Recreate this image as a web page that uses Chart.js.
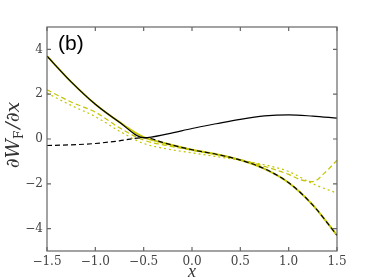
<!DOCTYPE html>
<html>
<head>
<meta charset="utf-8">
<script src="https://cdn.jsdelivr.net/npm/chart.js@4"></script>
<style>
  html, body { margin: 0; padding: 0; background: #fff; }
</style>
</head>
<body>
<canvas id="myChart" width="374" height="280"></canvas>
<script>
// x grid shared by most curves
const xs = [-1.5, -1.25, -1.0, -0.75, -0.5, -0.25, 0, 0.25, 0.5, 0.75, 1.0, 1.25, 1.5];

// descending branch (yellow solid under, black on the left part)
const descY = [3.7, 2.55, 1.55, 0.75, 0.08, -0.22, -0.48, -0.68, -0.94, -1.33, -1.95, -2.95, -4.3];

// black solid: left half of descending branch, then rising branch
const solidX = [-1.5, -1.25, -1.0, -0.75, -0.5, -0.25, 0, 0.25, 0.5, 0.75, 1.0, 1.25, 1.5];
const solidY = [3.7, 2.55, 1.55, 0.75, 0.06, 0.23, 0.47, 0.68, 0.88, 1.03, 1.08, 1.02, 0.93];

// black dashed: flat left part, then descending branch
const dashX = [-1.5, -1.25, -1.0, -0.75, -0.5, -0.25, 0, 0.25, 0.5, 0.75, 1.0, 1.25, 1.5];
const dashY = [-0.29, -0.26, -0.2, -0.08, 0.06, -0.22, -0.48, -0.68, -0.94, -1.33, -1.95, -2.95, -4.3];

// yellow dashed (turns up at the right)
const yelAX = [-1.5, -1.25, -1.0, -0.75, -0.5, -0.25, 0, 0.25, 0.5, 0.75, 1.0, 1.125, 1.25, 1.375, 1.5];
const yelAY = [2.2, 1.65, 1.2, 0.5, -0.05, -0.3, -0.5, -0.69, -0.92, -1.22, -1.58, -1.82, -1.9, -1.5, -0.95];

// yellow dotted
const yelBX = [-1.5, -1.25, -1.0, -0.75, -0.5, -0.25, 0, 0.25, 0.5, 0.75, 1.0, 1.25, 1.5];
const yelBY = [2.05, 1.5, 1.0, 0.35, -0.2, -0.45, -0.62, -0.78, -0.95, -1.15, -1.45, -2.0, -2.42];

const xTicks = [-1.5, -1.0, -0.5, 0.0, 0.5, 1.0, 1.5];
const yTicks = [-4, -2, 0, 2, 4];

const yellow = '#c4c400';
const pts = (a, b) => a.map((v, i) => ({x: v, y: b[i]}));
const fmt = (v, d) => (v < 0 ? '\u2212' : '') + Math.abs(v).toFixed(d);

const frame = {
    id: 'frame',
    afterDraw(chart) {
        const c = chart.ctx, a = chart.chartArea;
        const sx = chart.scales.x, sy = chart.scales.y;
        c.save();
        c.strokeStyle = '#666';
        c.lineWidth = 1.2;
        c.strokeRect(a.left, a.top, a.right - a.left, a.bottom - a.top);
        c.beginPath();
        xTicks.forEach(v => {
            const p = sx.getPixelForValue(v);
            c.moveTo(p, a.bottom); c.lineTo(p, a.bottom - 4);
            c.moveTo(p, a.top); c.lineTo(p, a.top + 4);
        });
        yTicks.forEach(v => {
            const p = sy.getPixelForValue(v);
            c.moveTo(a.left, p); c.lineTo(a.left + 4, p);
            c.moveTo(a.right, p); c.lineTo(a.right - 4, p);
        });
        c.stroke();

        // panel label
        c.fillStyle = '#000';
        c.font = '21px "Liberation Sans", Arial, sans-serif';
        c.textBaseline = 'alphabetic';
        c.fillText('(b)', a.left + 11, a.top + 23);

        // x label
        c.fillStyle = '#333';
        c.font = 'italic 18px "Liberation Serif", serif';
        c.textAlign = 'center';
        c.fillText('x', (a.left + a.right) / 2, 277);

        // y label
        c.textAlign = 'left';
        c.translate(19, 135);
        c.rotate(-Math.PI / 2);
        const big = 'italic 19px "DejaVu Serif", serif';
        const small = '12px "DejaVu Serif", serif';
        c.font = big; const w1 = c.measureText('\u2202W').width;
        c.font = small; const w2 = c.measureText('F').width;
        c.font = big; const w3 = c.measureText('/\u2202x').width;
        let x0 = -(w1 + w2 + w3 + 2) / 2;
        c.font = big; c.fillText('\u2202W', x0, 0);
        c.font = small; c.fillText('F', x0 + w1, 4);
        c.font = big; c.fillText('/\u2202x', x0 + w1 + w2 + 2, 0);
        c.restore();
    }
};

const ctx = document.getElementById('myChart');

new Chart(ctx, {
    type: 'line',
    data: {
        datasets: [
            {data: pts(solidX, solidY), borderColor: '#000', borderWidth: 1.2},
            {data: pts(dashX, dashY), borderColor: '#000', borderWidth: 1.2, borderDash: [5, 3]},
            {data: pts(xs, descY), borderColor: yellow, borderWidth: 2},
            {data: pts(yelAX, yelAY), borderColor: yellow, borderWidth: 1.2, borderDash: [5, 3]},
            {data: pts(yelBX, yelBY), borderColor: yellow, borderWidth: 1.2, borderDash: [2, 3]}
        ]
    },
    options: {
        responsive: false,
        animation: false,
        events: [],
        layout: {padding: {top: 27, right: 37, left: 0, bottom: 0}},
        elements: {
            point: {radius: 0},
            line: {cubicInterpolationMode: 'monotone', fill: false}
        },
        plugins: {legend: {display: false}, tooltip: {enabled: false}},
        scales: {
            x: {
                type: 'linear', min: -1.5, max: 1.5,
                border: {display: false},
                grid: {display: false, drawTicks: false},
                afterBuildTicks: s => { s.ticks = xTicks.map(v => ({value: v})); },
                afterFit: s => { s.height = 29; },
                ticks: {
                    padding: 4, maxRotation: 0, color: '#444',
                    font: {family: 'DejaVu Serif', size: 12},
                    callback: v => fmt(v, 1)
                }
            },
            y: {
                type: 'linear', min: -5, max: 5,
                border: {display: false},
                grid: {display: false, drawTicks: false},
                afterBuildTicks: s => { s.ticks = yTicks.map(v => ({value: v})); },
                afterFit: s => { s.width = 47; },
                ticks: {
                    padding: 4, color: '#444',
                    font: {family: 'DejaVu Serif', size: 12},
                    callback: v => fmt(v, 0)
                }
            }
        }
    },
    plugins: [frame]
});
</script>
</body>
</html>
